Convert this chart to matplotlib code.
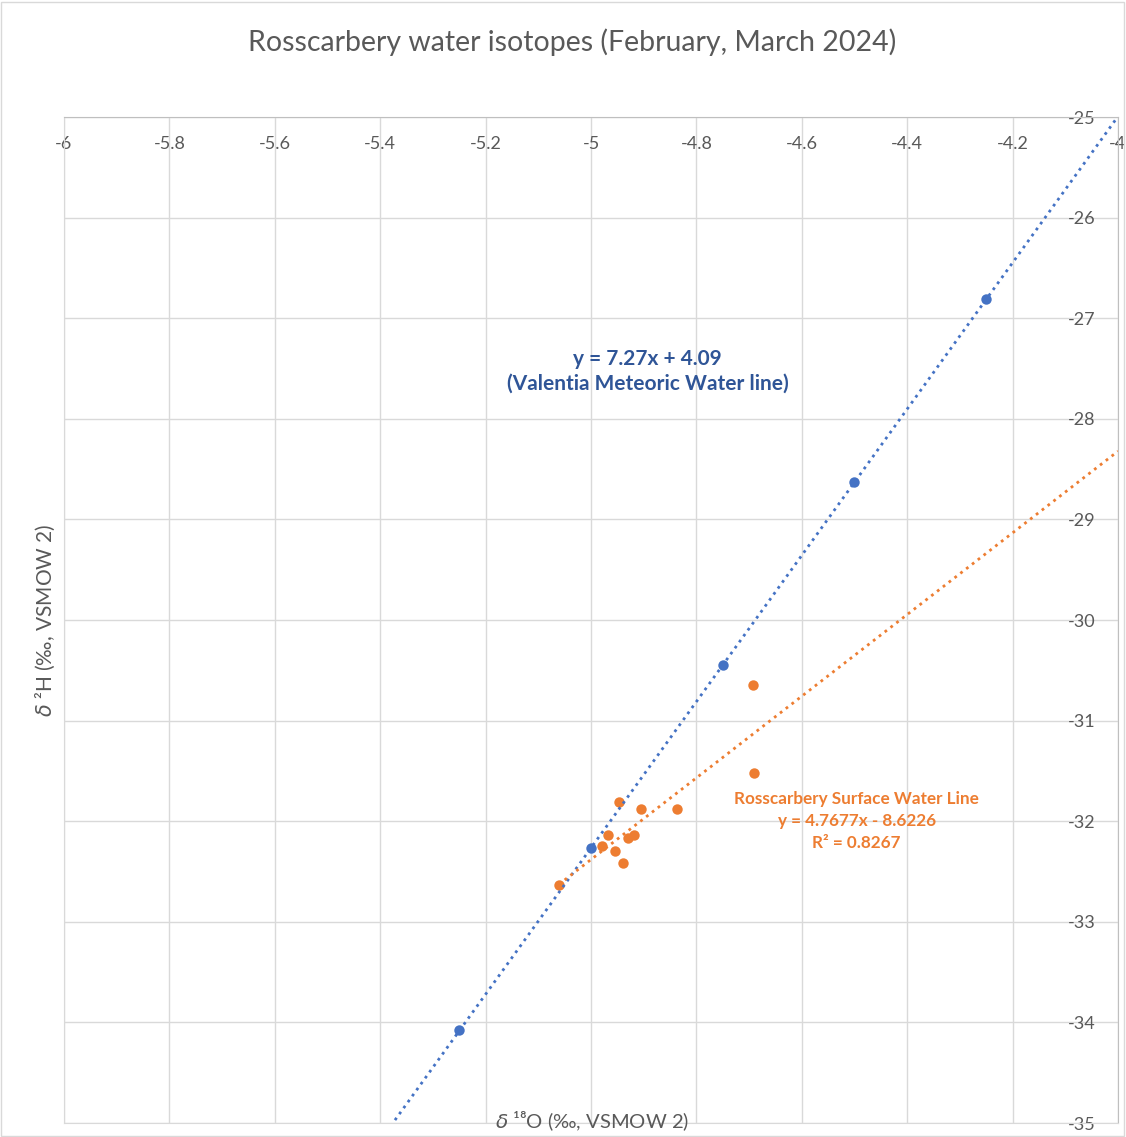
import numpy as np
import matplotlib.pyplot as plt
from matplotlib.patches import Rectangle

# Valentia meteoric water line points
vmwl_x = [-5.25, -5.0, -4.75, -4.5, -4.25]
vmwl_y = [-34.08, -32.27, -30.45, -28.63, -26.81]

# Rosscarbery surface water samples
ross_x = [-4.947, -4.905, -4.837, -4.968, -4.929, -4.918, -4.979, -4.954, -4.939, -5.061, -4.692, -4.690]
ross_y = [-31.81, -31.875, -31.88, -32.14, -32.17, -32.14, -32.25, -32.30, -32.42, -32.63, -30.645, -31.52]

x_ticks = np.arange(-6, -3.99, 0.2)
y_ticks = np.arange(-35, -24.9, 1)

blue = "#4472C4"
orange = "#ED7D31"
grey = "#595959"
font = ["Lato", "DejaVu Sans"]
plt.rcParams["font.family"] = font

fig = plt.figure(figsize=(11.26, 11.37), dpi=100)
ax = fig.add_axes([64/1126, 1 - 1123/1137, (1118 - 64)/1126, (1123 - 117)/1137])

ax.set_xlim(-6, -4)
ax.set_ylim(-35, -25)
ax.set_xticks(x_ticks)
ax.set_xticklabels(["%g" % round(v, 1) for v in x_ticks])
ax.set_yticks(y_ticks)
ax.set_yticklabels(["%d" % v for v in y_ticks])
ax.grid(True, color="#d9d9d9", linewidth=1)
ax.set_axisbelow(True)

# axes cross at top right corner, labels sit inside the plot
ax.xaxis.tick_top()
ax.yaxis.tick_right()
ax.tick_params(axis="x", length=0, pad=-25, labelsize=13, labelcolor=grey)
ax.tick_params(axis="y", length=0, pad=-16, labelsize=13, labelcolor=grey)
for t in ax.yaxis.get_major_ticks():
    t.label2.set_horizontalalignment("right")
for s in ["left", "bottom"]:
    ax.spines[s].set_color("#d9d9d9")
for s in ["top", "right"]:
    ax.spines[s].set_color("#bfbfbf")

# data
ax.plot(vmwl_x, vmwl_y, "o", color=blue, ms=7.5, mew=0, zorder=3)
ax.plot(ross_x, ross_y, "o", color=orange, ms=7.5, mew=0, zorder=3)

# trendlines
pb = np.polyfit(vmwl_x, vmwl_y, 1)
xb = np.array([-5.6, -4.0])
ax.plot(xb, np.polyval(pb, xb), ":", color=blue, lw=2, zorder=4)
po = np.polyfit(ross_x, ross_y, 1)
xo = np.array([min(ross_x), -4.0])
ax.plot(xo, np.polyval(po, xo), ":", color=orange, lw=2, zorder=4)

ax.text(-4.893, -27.53, "y = 7.27x + 4.09\n(Valentia Meteoric Water line)", color="#2F5597",
        fontsize=15, fontweight="bold", ha="center", va="center", linespacing=1.3)
ax.text(-4.496, -32.0, "Rosscarbery Surface Water Line\ny = 4.7677x - 8.6226\nR² = 0.8267", color=orange,
        fontsize=12.3, fontweight="bold", ha="center", va="center", linespacing=1.45)

fig.text(572/1126, 1 - 42/1137, "Rosscarbery water isotopes (February, March 2024)",
         fontsize=20.5, color=grey, ha="center", va="center")
fig.text(45/1126, 1 - 620/1137, r"$\delta$ ²H (‰, VSMOW 2)", rotation=90,
         fontsize=15, color=grey, ha="center", va="center")
fig.text(592/1126, 1 - 1121/1137, r"$\delta$ ¹⁸O (‰, VSMOW 2)",
         fontsize=14.5, color=grey, ha="center", va="center")

fig.patches.append(Rectangle((0.001, 0.001), 0.997, 0.997, transform=fig.transFigure,
                             fill=False, edgecolor="#d9d9d9", lw=1))

fig.savefig("out.png", dpi=100)
